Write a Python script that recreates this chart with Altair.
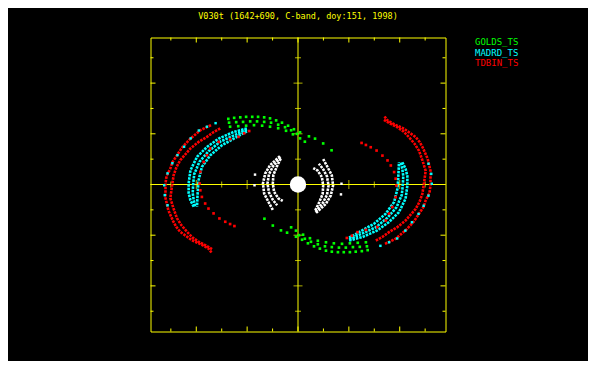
import altair as alt
import pandas as pd

TITLE = "V030t (1642+690, C-band, doy:151, 1998)"
X_TITLE = "U-axis"
Y_TITLE = "V-axis"
SERIES = ["GOLDS_TS", "MADRD_TS", "TDBIN_TS"]
SERIES_COLORS = ["#00ff00", "#00ffff", "#ff0000"]
AXIS_DOMAIN = [-580, 580]
LABEL_VALUES = [400, 200, 0, -200, -400]
TICK_VALUES = [-500, -400, -300, -200, -100, 0, 100, 200, 300, 400, 500]

# ---- uv tracks (one half; conjugate half is (-u,-v)) ----
# white: short baselines (crescents) + centre blob
W_OUT_U = [71, 110, 129, 138, 133, 116, 97]
W_OUT_V = [112, 76, 43, 4, -36, -69, -104]
W_MID_U = [69, 98, 114, 120, 114, 98, 82]
W_MID_V = [108, 72, 41, 4, -32, -62, -82]
W_IN_U = [68, 84, 97, 99, 94, 77, 60]
W_IN_V = [102, 69, 37, 4, -29, -55, -65]
W_DOT_U = [169, 171]
W_DOT_V = [39, -3]
CENTER_U = [0]
CENTER_V = [0]

# GOLDS_TS (green)
G_A_U = [274, 251, 227, 204, 180, 157, 133, 110, 86, 63, 39, 16, -8]
G_A_V = [259, 263, 265, 267, 267, 267, 265, 261, 253, 244, 232, 218, 206]
G_B_U = [271, 243, 216, 188, 161, 133, 106, 78, 51, 27, 4]
G_B_V = [244, 246, 247, 249, 249, 247, 244, 236, 226, 214, 200]
G_C_U = [267, 235, 204, 173, 141, 110, 78, 47, 20, -8, -27]
G_C_V = [228, 230, 232, 234, 232, 228, 222, 212, 198, 182, 169]
G_S_U = [-43, -67, -99, -132]
G_S_V = [190, 181, 162, 135]

# MADRD_TS (cyan)
C_OUT_U = [201, 254, 312, 358, 397, 423, 430, 430, 423, 410]
C_OUT_V = [221, 207, 181, 148, 109, 56, 4, -34, -62, -88]
C_MID_U = [201, 247, 306, 352, 388, 408, 412, 414, 410, 404]
C_MID_V = [216, 196, 169, 131, 89, 41, 4, -34, -62, -89]
C_IN_U = [201, 240, 299, 345, 378, 391, 394, 396, 397]
C_IN_V = [210, 188, 155, 115, 69, 17, -23, -62, -88]
C2_U = [324, 358, 390, 422, 448, 474, 494, 513, 526, 524, 513]
C2_V = [242, 228, 213, 182, 149, 116, 84, 44, -3, -42, -82]

# TDBIN_TS (red)
R_OUT_U = [342, 384, 423, 455, 476, 494, 502, 517, 521, 521, 521, 510, 490, 478, 463, 439, 417, 384, 353, 338]
R_OUT_V = [234, 214, 181, 147, 115, 88, 63, 33, 4, -26, -54, -101, -147, -168, -187, -204, -220, -235, -252, -271]
R_IN_U = [306, 333, 358, 392, 423, 443, 463, 478, 489, 495, 502, 490, 476, 459, 436, 416, 391, 365, 338]
R_IN_V = [221, 206, 188, 167, 142, 119, 96, 68, 37, -3, -54, -93, -133, -160, -187, -208, -226, -239, -255]
R2_U = [192, 212, 234, 267, 312, 345, 358, 371, 384, 387, 384, 378, 365, 352, 332, 309, 286, 267, 250]
R2_V = [211, 202, 188, 179, 168, 142, 115, 89, 50, 4, -23, -49, -75, -95, -114, -134, -147, -156, -164]

YEL = "#ffff00"
FONT = "DejaVu Sans Mono"
W, H = 295, 294

xs = alt.Scale(domain=AXIS_DOMAIN, reverse=True, nice=False, zero=False)
ys = alt.Scale(domain=AXIS_DOMAIN, nice=False, zero=False)


def track(us, vs, name):
    n = len(us)
    a = pd.DataFrame({"u": us, "v": vs, "i": list(range(n)), "key": name + "+"})
    b = pd.DataFrame({"u": [-x for x in us], "v": [-y for y in vs],
                      "i": list(range(n)), "key": name + "-"})
    return pd.concat([a, b], ignore_index=True)


def xy(xaxis=None, yaxis=None):
    return dict(x=alt.X("u:Q", scale=xs, axis=xaxis),
                y=alt.Y("v:Q", scale=ys, axis=yaxis))


def dense(tracks, color, width=2.6):
    df = pd.concat([track(u, v, f"{color}{k}") for k, (u, v) in enumerate(tracks)],
                   ignore_index=True)
    return alt.Chart(df).mark_line(color=color, strokeWidth=width, strokeDash=[2.5, 1],
                                   strokeCap="butt").encode(
        **xy(), detail="key:N", order="i:Q")


def dots(tracks, color, size=6):
    df = pd.concat([track(u, v, f"{color}{k}") for k, (u, v) in enumerate(tracks)],
                   ignore_index=True)
    return alt.Chart(df).mark_square(color=color, size=size, opacity=1).encode(**xy())


xaxis = alt.Axis(title=X_TITLE, values=LABEL_VALUES, ticks=False, tickSize=0, domain=False,
                 grid=False, labelColor=YEL, labelFont=FONT, labelFontSize=9.5,
                 labelPadding=4.5, labelFlush=False, titleColor=YEL, titleFont=FONT,
                 titleFontSize=8.5, titleFontWeight="normal", titleX=W / 2, titleY=27,
                 titleAlign="center", titleBaseline="middle")
yaxis = alt.Axis(title=Y_TITLE, values=LABEL_VALUES, ticks=False, tickSize=0, domain=False,
                 grid=False, labelColor=YEL, labelFont=FONT, labelFontSize=9.5,
                 labelAngle=270, labelAlign="center", labelBaseline="bottom",
                 labelPadding=3, labelFlush=False, titleColor=YEL, titleFont=FONT,
                 titleFontSize=8.5, titleFontWeight="normal", titleAngle=270,
                 titleX=-23, titleY=H / 2, titleAlign="center", titleBaseline="middle")

layers = []

# zero lines
layers.append(alt.Chart(pd.DataFrame({"v": [0]})).mark_rule(color=YEL, strokeWidth=1)
              .encode(y=alt.Y("v:Q", scale=ys, axis=yaxis)))
layers.append(alt.Chart(pd.DataFrame({"u": [0]})).mark_rule(color=YEL, strokeWidth=1)
              .encode(x=alt.X("u:Q", scale=xs, axis=xaxis)))

major = [t for t in TICK_VALUES if t % 200 == 0]
minor = [t for t in TICK_VALUES if t % 200 != 0]

for vals, size in ((major, 9), (minor, 6)):
    nz = [t for t in vals if t != 0]
    layers.append(alt.Chart(pd.DataFrame({"u": nz, "v": [0] * len(nz)}))
                  .mark_tick(orient="vertical", size=size, thickness=1, color=YEL)
                  .encode(**xy()))
    layers.append(alt.Chart(pd.DataFrame({"u": [0] * len(nz), "v": nz}))
                  .mark_tick(orient="horizontal", size=size, thickness=1, color=YEL)
                  .encode(**xy()))

for vals, L in ((major, 5), (minor, 3)):
    du = pd.DataFrame({"u": vals})
    dv = pd.DataFrame({"v": vals})
    ux = alt.X("u:Q", scale=xs, axis=None)
    vy = alt.Y("v:Q", scale=ys, axis=None)
    layers.append(alt.Chart(du).mark_rule(color=YEL, strokeWidth=1)
                  .encode(x=ux, y=alt.value(H), y2=alt.value(H - L)))
    layers.append(alt.Chart(du).mark_rule(color=YEL, strokeWidth=1)
                  .encode(x=ux, y=alt.value(0), y2=alt.value(L)))
    layers.append(alt.Chart(dv).mark_rule(color=YEL, strokeWidth=1)
                  .encode(y=vy, x=alt.value(0), x2=alt.value(L)))
    layers.append(alt.Chart(dv).mark_rule(color=YEL, strokeWidth=1)
                  .encode(y=vy, x=alt.value(W), x2=alt.value(W - L)))

# data
layers.append(dense([(W_OUT_U, W_OUT_V), (W_MID_U, W_MID_V), (W_IN_U, W_IN_V)], "#ffffff"))
layers.append(dots([(W_DOT_U, W_DOT_V)], "#ffffff"))
layers.append(alt.Chart(pd.DataFrame({"u": CENTER_U, "v": CENTER_V}))
              .mark_circle(color="#ffffff", size=270, opacity=1).encode(**xy()))
layers.append(dots([(G_A_U, G_A_V), (G_B_U, G_B_V), (G_C_U, G_C_V), (G_S_U, G_S_V)],
                   SERIES_COLORS[0], size=7))
layers.append(dense([(C_OUT_U, C_OUT_V), (C_MID_U, C_MID_V), (C_IN_U, C_IN_V)],
                    SERIES_COLORS[1]))
layers.append(dense([(R_OUT_U, R_OUT_V), (R_IN_U, R_IN_V)], SERIES_COLORS[2]))
layers.append(dots([(R2_U, R2_V)], SERIES_COLORS[2], size=7))
layers.append(dots([(C2_U, C2_V)], SERIES_COLORS[1]))

# legend text
LEG_Y = [4.8, 15.2, 25.8]
for name, col, ly in zip(SERIES, SERIES_COLORS, LEG_Y):
    layers.append(alt.Chart(pd.DataFrame({"name": [name]}))
                  .mark_text(align="left", baseline="middle", font=FONT, fontSize=9, color=col)
                  .encode(x=alt.value(324.5), y=alt.value(ly), text="name:N"))

chart = alt.layer(*layers).properties(
    width=W, height=H,
    autosize=alt.AutoSizeParams(type="none"),
    padding={"left": 142.5, "top": 29.5, "right": 142.5, "bottom": 29.5},
    title=alt.TitleParams(TITLE, color=YEL, font=FONT, fontSize=8.5, fontWeight="normal",
                          anchor="middle", offset=17),
).configure(background="black").configure_view(stroke=YEL, strokeWidth=1)

chart.save("out.html", embed_options={"renderer": "svg", "actions": False})
